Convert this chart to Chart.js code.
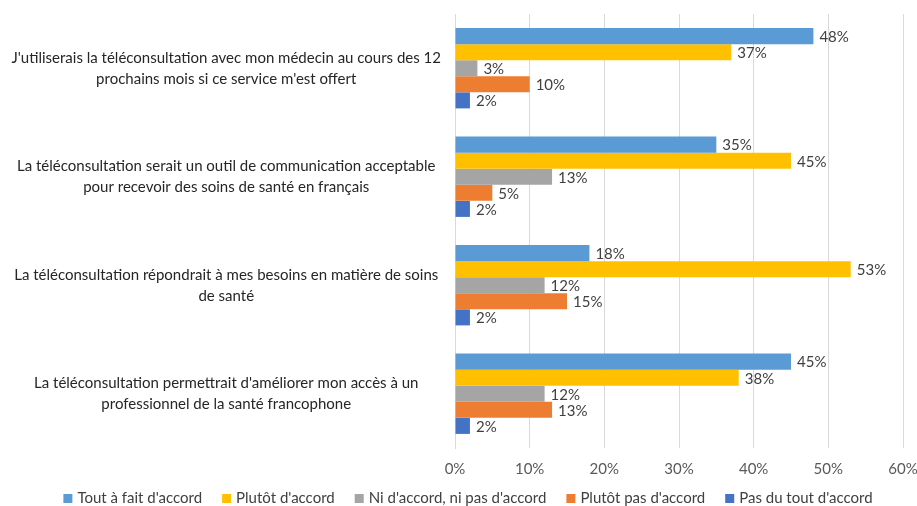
<!DOCTYPE html>
<html>
<head>
<meta charset="utf-8">
<script src="https://cdn.jsdelivr.net/npm/chart.js@4"></script>
<style>
  html, body { margin: 0; padding: 0; background: #ffffff; }
  #wrap { width: 917px; height: 506px; }
</style>
</head>
<body>
<div id="wrap"><canvas id="chart" width="917" height="506"></canvas></div>
<script>
// Survey statements (two-line labels)
const categories = [
  ["J'utiliserais la téléconsultation avec mon médecin au cours des 12", "prochains mois si ce service m'est offert"],
  ["La téléconsultation serait un outil de communication acceptable", "pour recevoir des soins de santé en français"],
  ["La téléconsultation répondrait à mes besoins en matière de soins", "de santé"],
  ["La téléconsultation permettrait d'améliorer mon accès à un", "professionnel de la santé francophone"]
];

const seriesNames = [
  "Tout à fait d'accord",
  "Plutôt d'accord",
  "Ni d'accord, ni pas d'accord",
  "Plutôt pas d'accord",
  "Pas du tout d'accord"
];

// Percent of respondents per answer, one array per answer
const toutAFait   = [48, 35, 18, 45];
const plutot      = [37, 45, 53, 38];
const neutre      = [3, 13, 12, 12];
const plutotPas   = [10, 5, 15, 13];
const pasDuTout   = [2, 2, 2, 2];

const xTicks = [0, 10, 20, 30, 40, 50, 60];

const colors = ["#5B9BD5", "#FFC000", "#A5A5A5", "#ED7D31", "#4472C4"];
const seriesValues = [toutAFait, plutot, neutre, plutotPas, pasDuTout];

const FONT = "Lato, 'Liberation Sans', sans-serif";

// Value labels drawn just past the end of each bar
const barValueLabels = {
  id: 'barValueLabels',
  afterDatasetsDraw(chart) {
    const ctx = chart.ctx;
    ctx.save();
    ctx.font = "15px " + FONT;
    ctx.fillStyle = "#404040";
    ctx.textAlign = "left";
    ctx.textBaseline = "middle";
    chart.data.datasets.forEach((ds, i) => {
      const meta = chart.getDatasetMeta(i);
      meta.data.forEach((bar, j) => {
        ctx.fillText(ds.data[j] + "%", bar.x + 6, bar.y + 1);
      });
    });
    ctx.restore();
  }
};

// Single-row legend along the bottom edge, built from the datasets
const bottomLegend = {
  id: 'bottomLegend',
  afterDraw(chart) {
    const ctx = chart.ctx;
    const box = 9, boxGap = 5, itemGap = 20, cy = 498.5, centerX = 468;
    ctx.save();
    ctx.font = "15px " + FONT;
    ctx.textBaseline = "middle";
    ctx.textAlign = "left";
    const items = chart.data.datasets.map(ds => ({
      text: ds.label,
      color: ds.backgroundColor,
      w: ctx.measureText(ds.label).width
    }));
    const total = items.reduce((s, it) => s + box + boxGap + it.w, 0) + itemGap * (items.length - 1);
    let x = centerX - total / 2;
    items.forEach(it => {
      ctx.fillStyle = it.color;
      ctx.fillRect(x, cy - box / 2, box, box);
      ctx.fillStyle = "#404040";
      ctx.fillText(it.text, x + box + boxGap, cy);
      x += box + boxGap + it.w + itemGap;
    });
    ctx.restore();
  }
};

new Chart(document.getElementById('chart'), {
  type: 'bar',
  data: {
    labels: categories,
    datasets: seriesNames.map((name, i) => ({
      label: name,
      data: seriesValues[i],
      backgroundColor: colors[i],
      borderWidth: 0,
      categoryPercentage: 0.74,
      barPercentage: 1.0
    }))
  },
  options: {
    indexAxis: 'y',
    responsive: false,
    animation: false,
    layout: { padding: { top: 14, right: 14, left: 0, bottom: 27 } },
    plugins: {
      legend: { display: false },
      tooltip: { enabled: false }
    },
    scales: {
      x: {
        min: 0,
        max: 60,
        afterBuildTicks(scale) {
          scale.ticks = xTicks.map(v => ({ value: v }));
        },
        afterFit(scale) {
          scale.height = 31;
          scale.paddingLeft = 0;
          scale.paddingRight = 0;
        },
        ticks: {
          callback: v => v + "%",
          color: "#595959",
          font: { family: FONT, size: 15 },
          padding: 12
        },
        grid: { color: "#D9D9D9", drawTicks: false, lineWidth: 1 },
        border: { display: false }
      },
      y: {
        afterFit(scale) {
          scale.width = 455;
          scale.paddingTop = 0;
          scale.paddingBottom = 0;
        },
        ticks: {
          crossAlign: 'center',
          padding: 14,
          color: "#262626",
          font: { family: FONT, size: 15, lineHeight: 1.4 }
        },
        grid: { display: false, drawTicks: false },
        border: { display: true, color: "#D9D9D9" }
      }
    }
  },
  plugins: [barValueLabels, bottomLegend]
});
</script>
</body>
</html>
